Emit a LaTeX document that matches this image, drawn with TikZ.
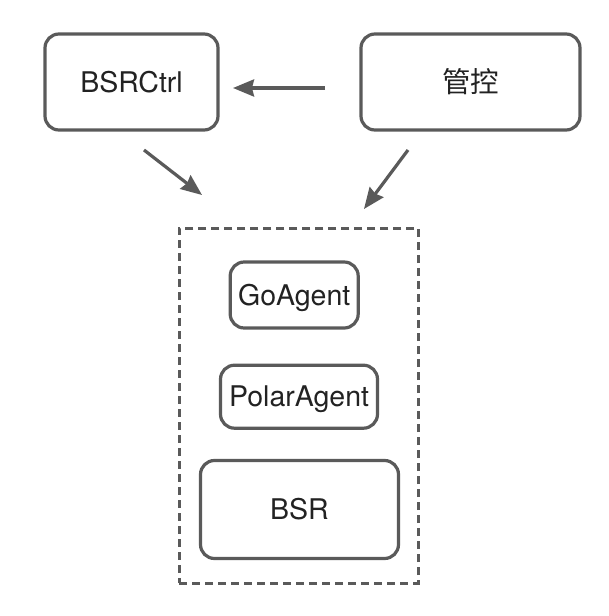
\documentclass[tikz,border=0pt]{standalone}
\usepackage{fontspec}
\setmainfont{TeX Gyre Heros}
\newfontfamily\cjkfont{Noto Sans CJK SC}
\usetikzlibrary{arrows.meta}

\definecolor{linegray}{HTML}{5A5A5A}
\definecolor{textgray}{HTML}{222222}

\begin{document}
\begin{tikzpicture}[x=1pt,y=-1pt,
	box/.style={draw=linegray, line width=3.2pt, rounded corners=14pt, text=textgray, inner sep=0pt,
		font=\fontsize{28.5}{34}\selectfont, text height=20.5pt, text depth=0pt},
	arr/.style={draw=linegray, line width=3.2pt, -{Stealth[length=21pt,width=17pt,inset=2pt]}}]

	% fix the page to the size of the picture
	\useasboundingbox (0,0) rectangle (608,616);

	% top row
	\node[box, minimum width=173pt, minimum height=96pt] (bsrctrl) at (131.5,82) {BSRCtrl};
	\node[box, minimum width=219pt, minimum height=96pt] (guankong) at (470.5,82) {\cjkfont 管控};

	% dashed group with its three parts
	\node[draw=linegray, line width=3.4pt, dash pattern=on 8pt off 5pt, minimum width=239pt, minimum height=355pt] (group) at (298.8,405.7) {};
	\node[box, minimum width=128pt, minimum height=66pt] (goagent) at (294.2,295) {GoAgent};
	\node[box, minimum width=157pt, minimum height=63pt] (polaragent) at (299,396.7) {PolarAgent};
	\node[box, minimum width=198pt, minimum height=98pt] (bsr) at (299.5,509.5) {BSR};

	% free ends of the arrows
	\coordinate (gk tail) at (325,88);
	\coordinate (ctrl head) at (233,88);
	\coordinate (ctrl tail) at (144,150);
	\coordinate (group left) at (202,195);
	\coordinate (gk down) at (408,150);
	\coordinate (group right) at (364,209);

	% arrows
	\draw[arr] (gk tail) -- (ctrl head);
	\draw[arr] (ctrl tail) -- (group left);
	\draw[arr] (gk down) -- (group right);

\end{tikzpicture}
\end{document}
